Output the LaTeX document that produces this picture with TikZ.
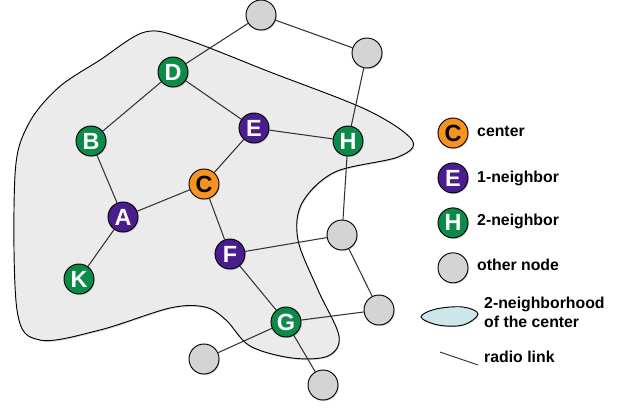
\documentclass[tikz,border=0pt]{standalone}
\usepackage{fontspec}
\setmainfont{Liberation Sans}
\usetikzlibrary{positioning,shadows,backgrounds}

\definecolor{hubfill}{HTML}{F7931E}
\definecolor{onefill}{HTML}{4A1D8E}
\definecolor{twofill}{HTML}{0B8A4A}
\definecolor{otherfill}{HTML}{D4D4D4}
\definecolor{zonefill}{HTML}{EBEBEB}
\definecolor{keyzone}{HTML}{CDE6E9}

\tikzset{
	station/.style={circle, draw=black, line width=0.8pt, minimum size=0.9cm, inner sep=0pt,
		drop shadow={opacity=0.35, shadow xshift=0.7pt, shadow yshift=-1pt},
		font=\bfseries\fontsize{20}{20}\selectfont},
	hubnode/.style={station, fill=hubfill, text=black},
	oneneighbor/.style={station, fill=onefill, text=white},
	twoneighbor/.style={station, fill=twofill, text=white},
	othernode/.style={station, fill=otherfill},
	keytext/.style={anchor=west, inner sep=0pt, align=left, font=\bfseries\fontsize{13.5}{16}\selectfont},
	link/.style={line width=0.9pt, draw=black!80}
}

\begin{document}
\begin{tikzpicture}[x=0.03cm, y=-0.03cm]
\useasboundingbox (0,0) rectangle (623,413);

% network
\node[othernode] (top) at (261,15) {};
\node[othernode] (topright) at (367,53) {};
\node[twoneighbor] (d) at (173,72) {D};
\node[twoneighbor] (b) at (91,141) {B};
\node[oneneighbor] (e) at (254,128) {E};
\node[twoneighbor] (h) at (348,141) {H};
\node[hubnode] (c) at (204,184) {C};
\node[oneneighbor] (a) at (123,217) {A};
\node[oneneighbor] (f) at (230,254) {F};
\node[twoneighbor] (k) at (79,279) {K};
\node[othernode] (midright) at (342,235) {};
\node[othernode] (lowright) at (379,310) {};
\node[twoneighbor] (g) at (286,322) {G};
\node[othernode] (bottomleft) at (204,359) {};
\node[othernode] (bottom) at (323,385) {};

\begin{scope}[on background layer]
% 2-neighborhood
\draw[line width=0.8pt, fill=zonefill, drop shadow={opacity=0.3, shadow xshift=0.8pt, shadow yshift=-1pt}]
	plot[smooth cycle, tension=0.55] coordinates {
	(145,32) (185,39) (270,72) (367,110) (412,140) (398,157) (335,172) (302,203)
	(298,240) (318,290) (339,336) (328,356) (292,358) (250,346) (226,320)
	(205,307) (170,308) (100,330) (40,340) (17,310) (15,175) (28,125) (58,88)
	(100,60)};
% radio links
\draw[link] (top) -- (d);
\draw[link] (top) -- (topright) -- (h);
\draw[link] (d) -- (b) -- (a) -- (k);
\draw[link] (d) -- (e) -- (h) -- (midright);
\draw[link] (e) -- (c) -- (a);
\draw[link] (c) -- (f) -- (midright) -- (lowright) -- (g);
\draw[link] (f) -- (g) -- (bottomleft);
\draw[link] (g) -- (bottom);
\end{scope}

% legend
\node[hubnode] (keyhub) at (453,133) {C};
\node[oneneighbor] (keyone) [below=0.42cm of keyhub] {E};
\node[twoneighbor] (keytwo) [below=0.42cm of keyone] {H};
\node[othernode] (keyother) [below=0.42cm of keytwo] {};
\node[keytext] (lblhub) at (477,131) {center};
\node[keytext] (lblone) at (477,178) {1-neighbor};
\node[keytext] (lbltwo) at (477,221) {2-neighbor};
\node[keytext] (lblother) at (477,265) {other node};

\draw[line width=0.8pt, fill=keyzone, drop shadow={opacity=0.3, shadow xshift=0.7pt, shadow yshift=-0.8pt}]
	plot[smooth cycle, tension=0.6] coordinates {
	(421,317) (436,309) (463,307) (478,314) (463,325) (438,325)};
\node[keytext] (lblzone) at (484,312) {2-neighborhood\\of the center};

\coordinate (linkstart) at (440,352);
\coordinate (linkend) at (478,365);
\draw[line width=0.8pt, draw=black!80] (linkstart) -- (linkend);
\node[keytext] (lbllink) at (484,357) {radio link};
\end{tikzpicture}
\end{document}
